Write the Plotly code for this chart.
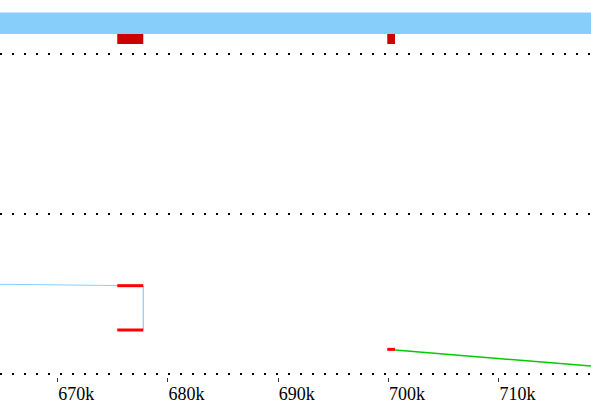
import plotly.graph_objects as go

# genomic positions (bp) and track values
x_start = 664770
x_end = 718350

# upper track: highlighted blocks on the contig band
block_starts = [675400, 699880]
block_ends = [677760, 700580]

# lower track: alignment links
blue_x = [664770, 675400]
blue_y = [56.1, 55.3]
jump_x = [677760, 677760]
jump_y = [55.2, 27.5]
red_seg_x = [[675400, 677760], [675400, 677760], [699880, 700580]]
red_seg_y = [[55.2, 55.2], [27.5, 27.5], [15.4, 15.4]]
green_x = [700580, 718350]
green_y = [15.0, 5.0]

separator_levels = [0, 100, 200]
tick_vals = [670000, 680000, 690000, 700000, 710000]
tick_text = ["670k", "680k", "690k", "700k", "710k"]

band_y = [212.5, 225.9]
block_y = [206.25, 212.5]

fig = go.Figure()

fig.add_trace(go.Scatter(x=blue_x, y=blue_y, mode="lines",
                         line=dict(color="#87cefa", width=1.2), showlegend=False))
fig.add_trace(go.Scatter(x=jump_x, y=jump_y, mode="lines",
                         line=dict(color="#87cefa", width=1.2), showlegend=False))
fig.add_trace(go.Scatter(x=green_x, y=green_y, mode="lines",
                         line=dict(color="#00cc00", width=1.5), showlegend=False))
for sx, sy in zip(red_seg_x, red_seg_y):
    fig.add_trace(go.Scatter(x=sx, y=sy, mode="lines",
                             line=dict(color="#ff0000", width=3), showlegend=False))

# contig band across the whole view
fig.add_shape(type="rect", xref="paper", x0=0, x1=1, yref="y",
              y0=band_y[0], y1=band_y[1], fillcolor="#87cefa", line_width=0)
for s, e in zip(block_starts, block_ends):
    fig.add_shape(type="rect", xref="x", x0=s, x1=e, yref="y",
                  y0=block_y[0], y1=block_y[1], fillcolor="#cc0000", line_width=0)

fig.update_xaxes(
    range=[x_start, x_end], tickvals=tick_vals, ticktext=tick_text,
    ticks="outside", ticklen=4, tickcolor="#333333", tickwidth=1,
    ticklabelposition="outside right",
    showgrid=False, zeroline=False, showline=False,
    tickfont=dict(family="Liberation Serif, Times New Roman, serif", size=18, color="black"),
)
fig.update_yaxes(
    range=[-1.875, 233.75], tickvals=separator_levels, showticklabels=False,
    showgrid=True, gridcolor="black", gridwidth=1.5, griddash="2px,10px",
    zeroline=False, showline=False,
)

fig.update_layout(
    width=591, height=405,
    margin=dict(l=0, r=0, t=0, b=28),
    paper_bgcolor="white", plot_bgcolor="white",
    showlegend=False,
)

# drop the browser's default body margin so the figure sits at the page corner
fig.write_html("out.html", config={"displayModeBar": False},
               post_script="document.body.style.margin='0px';")
